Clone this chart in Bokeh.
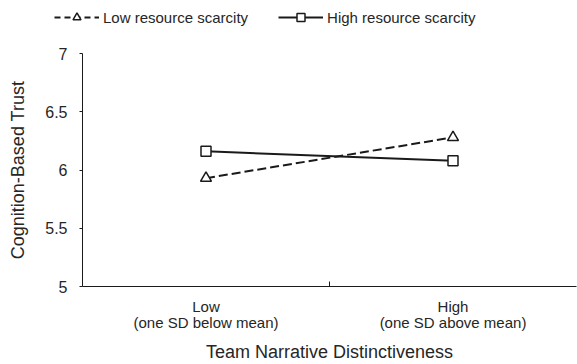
from bokeh.plotting import figure
from bokeh.layouts import column, row
from bokeh.models import FixedTicker, Legend, LegendItem, Range1d
from bokeh.embed import file_html
from bokeh.resources import INLINE

conditions = ["Low\n(one SD below mean)", "High\n(one SD above mean)"]
x_pos = [0.5, 1.5]
low_scarcity = [5.93, 6.28]
high_scarcity = [6.16, 6.08]
series_labels = ["Low resource scarcity", "High resource scarcity"]
y_ticks = [5, 5.5, 6, 6.5, 7]
y_tick_labels = ["5", "5.5", "6", "6.5", "7"]

FONT = "Liberation Sans"
INK = "#262626"
LINE = "#1a1a1a"

# ---- legend strip (its renderers sit outside its own view; only the legend shows) ----
leg = figure(width=577, height=34, output_backend="svg", toolbar_location=None,
             x_range=Range1d(0, 1), y_range=Range1d(0, 1),
             x_axis_location=None, y_axis_location=None,
             min_border_left=0, min_border_right=0, min_border_top=0, min_border_bottom=0)
leg.outline_line_color = None
leg.grid.visible = False
l1 = leg.line(x_pos, low_scarcity, line_color=LINE, line_width=2, line_dash="6 4")
l1m = leg.scatter(x_pos, low_scarcity, marker="triangle", size=9, fill_color="white",
                  line_color=LINE, line_width=1.5)
l2 = leg.line(x_pos, high_scarcity, line_color=LINE, line_width=2)
l2m = leg.scatter(x_pos, high_scarcity, marker="square", size=9, fill_color="white",
                  line_color=LINE, line_width=1.5)
legend = Legend(items=[
    LegendItem(label=series_labels[0], renderers=[l1, l1m]),
    LegendItem(label=series_labels[1], renderers=[l2, l2m]),
], orientation="horizontal", location=(54, 7))
legend.border_line_color = None
legend.background_fill_alpha = 0
legend.label_text_font = FONT
legend.label_text_font_size = "15px"
legend.label_text_color = INK
legend.glyph_width = 45
legend.glyph_height = 20
legend.spacing = 30
legend.label_standoff = 4
legend.margin = 0
legend.padding = 4
leg.add_layout(legend, "center")

# ---- main plot ----
p = figure(width=577, height=330, output_backend="svg", toolbar_location=None,
           x_range=Range1d(0, 2), y_range=Range1d(5, 7),
           min_border_left=82, min_border_right=1, min_border_top=19, min_border_bottom=77)
p.outline_line_color = None
p.grid.visible = False

p.line(x_pos, low_scarcity, line_color=LINE, line_width=2, line_dash="9 4")
p.scatter(x_pos, low_scarcity, marker="triangle", size=11, fill_color="white",
          line_color=LINE, line_width=1.5)
p.line(x_pos, high_scarcity, line_color=LINE, line_width=2)
p.scatter(x_pos, high_scarcity, marker="square", size=10, fill_color="white",
          line_color=LINE, line_width=1.5)

xa = p.xaxis[0]
xa.ticker = FixedTicker(ticks=x_pos, minor_ticks=[1])
xa.major_label_overrides = {x_pos[i]: conditions[i] for i in range(2)}
xa.major_tick_out = 0
xa.major_tick_in = 0
xa.minor_tick_out = 0
xa.minor_tick_in = 5
xa.axis_line_color = LINE
xa.minor_tick_line_color = LINE
xa.major_label_text_font = FONT
xa.major_label_text_font_size = "15px"
xa.major_label_text_line_height = 0.95
xa.major_label_text_color = INK
xa.major_label_standoff = 11
xa.axis_label = "Team Narrative Distinctiveness"
xa.axis_label_text_font = FONT
xa.axis_label_text_font_size = "18px"
xa.axis_label_text_font_style = "normal"
xa.axis_label_text_color = INK
xa.axis_label_standoff = 8

ya = p.yaxis[0]
ya.ticker = FixedTicker(ticks=y_ticks, minor_ticks=[])
ya.major_label_overrides = {y_ticks[i]: y_tick_labels[i] for i in range(len(y_ticks))}
ya.major_tick_out = 3
ya.major_tick_in = 0
ya.axis_line_color = LINE
ya.major_tick_line_color = LINE
ya.major_label_text_font = FONT
ya.major_label_text_font_size = "16px"
ya.major_label_text_color = INK
ya.major_label_standoff = 12
ya.axis_label = "Cognition-Based Trust"
ya.axis_label_text_font = FONT
ya.axis_label_text_font_size = "18px"
ya.axis_label_text_font_style = "normal"
ya.axis_label_text_color = INK
ya.axis_label_standoff = 14

layout = column(leg, row(p), spacing=0)
open("out.html", "w").write(file_html(layout, INLINE))
